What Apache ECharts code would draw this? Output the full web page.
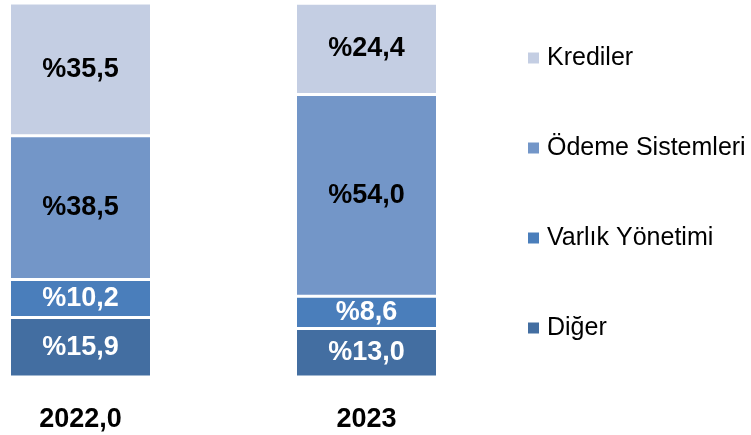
<!DOCTYPE html>
<html><head><meta charset="utf-8">
<script src="https://cdn.jsdelivr.net/npm/echarts@6/dist/echarts.min.js"></script>
<style>html,body{margin:0;padding:0;background:#fff}#c{width:751px;height:435px}</style>
</head><body><div id="c"></div>
<script>
const categories = ['2022,0', '2023'];
const diger = [15.9, 13.0];
const varlik = [10.2, 8.6];
const odeme = [38.5, 54.0];
const krediler = [35.5, 24.4];
const seriesNames = ['Diğer', 'Varlık Yönetimi', 'Ödeme Sistemleri', 'Krediler'];
const legendOrder = ['Krediler', 'Ödeme Sistemleri', 'Varlık Yönetimi', 'Diğer'];

const FONT = '"Liberation Sans", Arial, sans-serif';
const colors = ['#436ea1', '#4a7ebb', '#7396c8', '#c4cee3'];
const labelColors = ['#ffffff', '#ffffff', '#000000', '#000000'];
const data = [diger, varlik, odeme, krediler];

const fmt = v => '%' + v.toFixed(1).replace('.', ',');

const chart = echarts.init(document.getElementById('c'), null, {renderer: 'canvas'});
chart.setOption({
  animation: false,
  backgroundColor: '#ffffff',
  grid: {left: 80.5, right: 384.5, top: 3, bottom: 58, containLabel: false},
  xAxis: {
    type: 'category', data: categories, boundaryGap: false,
    axisLine: {show: false}, axisTick: {show: false}, splitLine: {show: false},
    axisLabel: {fontFamily: FONT, fontWeight: 'bold', fontSize: 27, color: '#000', margin: 29}
  },
  yAxis: {type: 'value', min: 0, max: 100.1, show: false, splitLine: {show: false}},
  legend: {
    orient: 'vertical', left: 521, top: 40, itemWidth: 13, itemHeight: 13, itemGap: 64,
    icon: 'rect', data: legendOrder,
    textStyle: {fontFamily: FONT, fontSize: 25, color: '#000', lineHeight: 26, padding: [0, 0, 0, 2]}
  },
  series: seriesNames.map((n, i) => ({
    name: n, type: 'bar', stack: 'a', barWidth: 142,
    data: data[i],
    itemStyle: {color: colors[i], borderColor: '#ffffff', borderWidth: 1.5},
    label: {show: true, position: 'inside', formatter: p => fmt(p.value),
      fontFamily: FONT, fontWeight: 'bold', fontSize: 27, color: labelColors[i]}
  }))
});
</script></body></html>
